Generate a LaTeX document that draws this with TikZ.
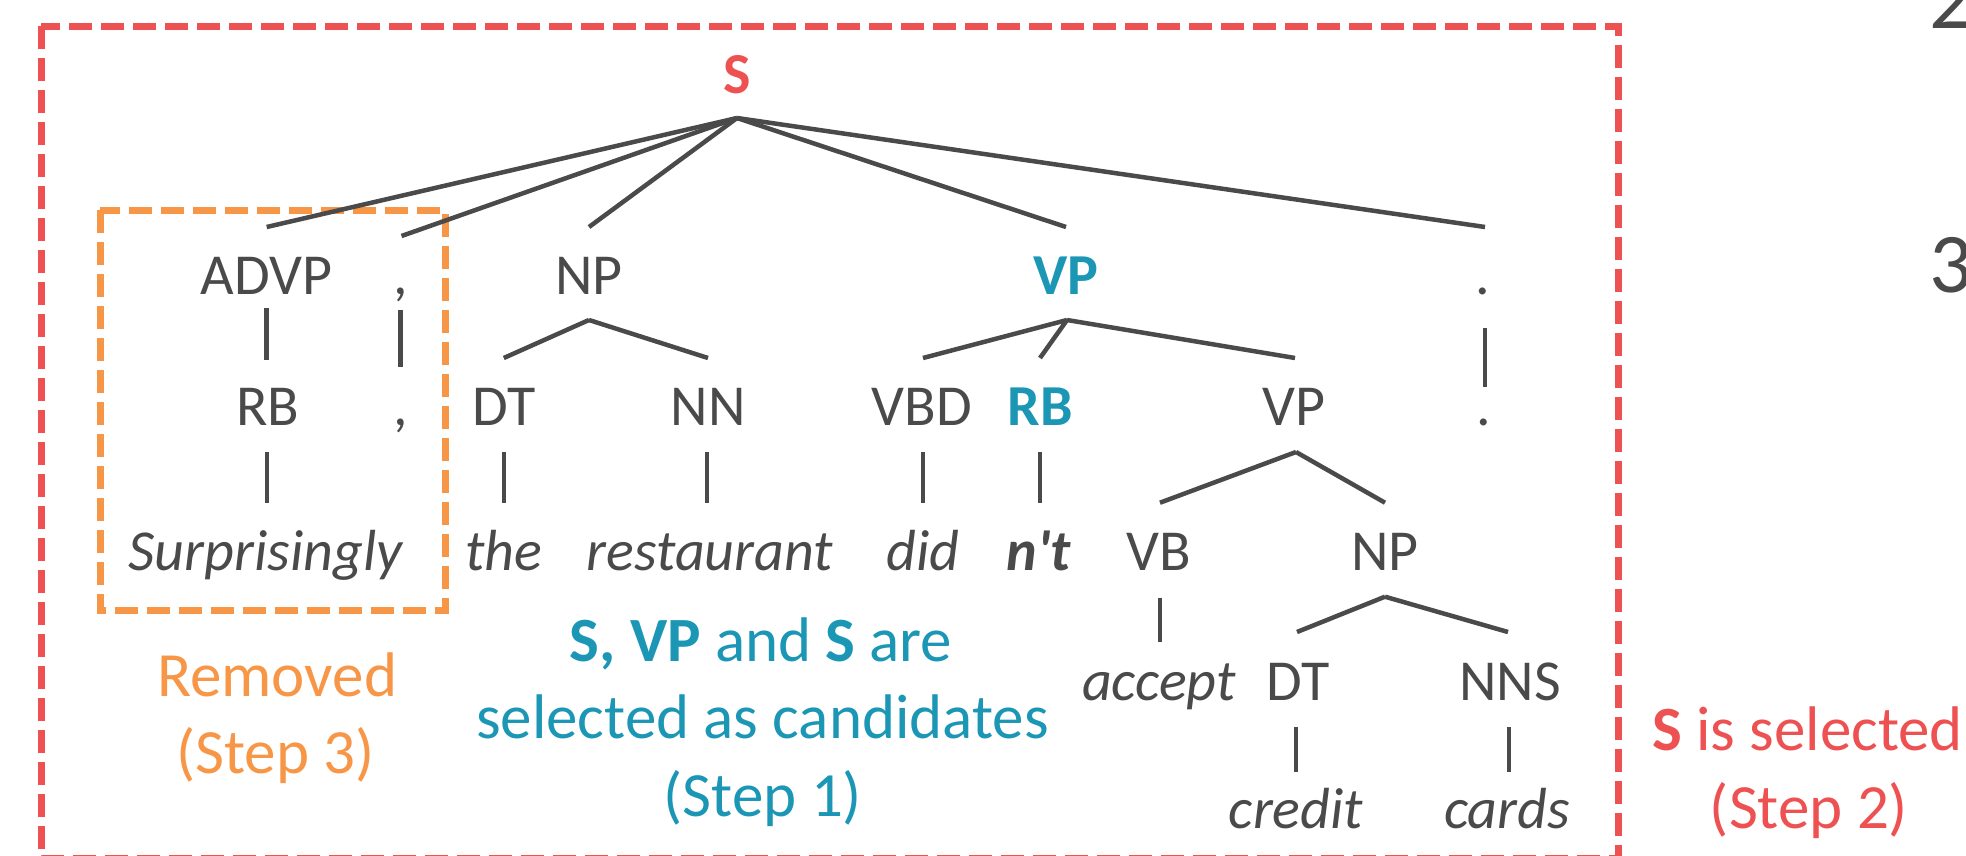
\documentclass[tikz,border=0pt]{standalone}
\usepackage{fontspec}
\setmainfont{Carlito}
\usetikzlibrary{calc}
\definecolor{cred}{RGB}{238,81,82}
\definecolor{corange}{RGB}{247,150,70}
\definecolor{cblue}{RGB}{27,151,181}
\definecolor{cgray}{RGB}{74,74,74}
\newcommand\tsz{\fontsize{58}{70}\selectfont}
\newcommand\asz{\fontsize{63}{76}\selectfont}
\begin{document}
\begin{tikzpicture}[x=1pt,y=-1pt,
  lbl/.style={anchor=base,inner sep=0pt,text=cgray,font=\tsz},
  blbl/.style={anchor=base,inner sep=0pt,font=\tsz\bfseries},
  word/.style={anchor=base,inner sep=0pt,text=cgray,font=\tsz\itshape},
  edge/.style={draw=cgray,line width=4.5pt},
  ann/.style={anchor=base,inner sep=0pt,font=\asz},
  selbox/.style={line width=7pt,dash pattern=on 23pt off 9pt}]
\useasboundingbox (0,0) rectangle (1966,855);
% boxes
\draw[selbox,cred] (41,26) rectangle (1618,858.5);
\draw[selbox,corange] (100,210) rectangle (445.5,610.7);
% root
\node[blbl,text=cred] (S) at (737,93) {S};
% row 1
\node[lbl] (ADVP) at (266.7,294) {ADVP};
\node[lbl] (c1) at (400.5,294) {,};
\node[lbl] (NP1) at (589,294) {NP};
\node[blbl,text=cblue] (VP1) at (1066,294) {VP};
\node[lbl] (p1) at (1483,294) {.};
% row 2
\node[lbl] (RB1) at (268,425) {RB};
\node[lbl] (c2) at (400.5,425) {,};
\node[lbl] (DT1) at (503.8,425) {DT};
\node[lbl] (NN) at (708,425) {NN};
\node[lbl] (VBD) at (922,425) {VBD};
\node[blbl,text=cblue] (RB2) at (1040,425) {RB};
\node[lbl] (VP2) at (1294,425) {VP};
\node[lbl] (p2) at (1483.5,425) {.};
% row 3
\node[word] (w1) at (265.6,570.7) {Surprisingly};
\node[word] (w2) at (504,570.7) {the};
\node[word] (w3) at (710,570.7) {restaurant};
\node[word] (w4) at (923,570.7) {did};
\node[word,font=\tsz\bfseries\itshape] (w5) at (1039,570.7) {n\textquotesingle t};
\node[lbl] (VB) at (1159,570.7) {VB};
\node[lbl] (NP2) at (1385,570.7) {NP};
% row 4
\node[word] (w6) at (1159,700) {accept};
\node[lbl] (DT2) at (1298,700) {DT};
\node[lbl] (NNS) at (1510,700) {NNS};
% row 5
\node[word] (w7) at (1296,828) {credit};
\node[word] (w8) at (1507,828) {cards};
% edges from S
\coordinate (Sa) at ($(S.base)+(0,25)$);
\draw[edge] (Sa) -- ($(ADVP.base)+(0,-67)$);
\draw[edge] (Sa) -- ($(c1.base)+(1,-58)$);
\draw[edge] (Sa) -- ($(NP1.base)+(0,-67)$);
\draw[edge] (Sa) -- ($(VP1.base)+(0,-67)$);
\draw[edge] (Sa) -- ($(p1.base)+(2,-67)$);
% row1 -> row2
\draw[edge] ($(ADVP.base)+(0,14)$) -- ($(ADVP.base |- RB1.base)+(0,-65)$);
\draw[edge] ($(c1.base)+(0,16)$) -- ($(c1.base |- c2.base)+(0,-58)$);
\draw[edge] ($(p1.base)+(2,34)$) -- ($(p1.base |- p2.base)+(2,-38)$);
\coordinate (NPa) at ($(NP1.base)+(0,26)$);
\draw[edge] (NPa) -- ($(DT1.base)+(0,-67)$);
\draw[edge] (NPa) -- ($(NN.base)+(0,-67)$);
\coordinate (VPa) at ($(VP1.base)+(1,26)$);
\draw[edge] (VPa) -- ($(VBD.base)+(1,-67)$);
\draw[edge] (VPa) -- ($(RB2.base)+(0,-67)$);
\draw[edge] (VPa) -- ($(VP2.base)+(1,-67)$);
% row2 -> row3
\draw[edge] ($(RB1.base)+(-1,27)$) -- ($(RB1.base |- w1.base)+(-1,-68)$);
\draw[edge] ($(DT1.base)+(0,27)$) -- ($(DT1.base |- w2.base)+(0,-68)$);
\draw[edge] ($(NN.base)+(-1,27)$) -- ($(NN.base |- w3.base)+(-1,-68)$);
\draw[edge] ($(VBD.base)+(1,27)$) -- ($(VBD.base |- w4.base)+(1,-68)$);
\draw[edge] ($(RB2.base)+(0,27)$) -- ($(RB2.base |- w5.base)+(0,-68)$);
\coordinate (VP2a) at ($(VP2.base)+(2,27)$);
\draw[edge] (VP2a) -- ($(VB.base)+(1,-68)$);
\draw[edge] (VP2a) -- ($(NP2.base)+(0,-68)$);
% row3 -> row4
\draw[edge] ($(VB.base)+(1,27)$) -- ($(VB.base |- w6.base)+(1,-58)$);
\coordinate (NP2a) at ($(NP2.base)+(0,26)$);
\draw[edge] (NP2a) -- ($(DT2.base)+(-1,-68)$);
\draw[edge] (NP2a) -- ($(NNS.base)+(-2,-68)$);
% row4 -> row5
\draw[edge] ($(DT2.base)+(-2,27)$) -- ($(DT2.base |- w7.base)+(-2,-56)$);
\draw[edge] ($(NNS.base)+(-1,27)$) -- ($(NNS.base |- w8.base)+(-1,-56)$);
% annotations
\node[ann,text=corange] (rem1) at (277,696.7) {Removed};
\node[ann,text=corange] (rem2) at (275.6,773) {(Step 3)};
\node[ann,text=cblue] (sel1) at (761,661.7) {\textbf{S, VP} and \textbf{S} are};
\node[ann,text=cblue] (sel2) at (762.5,738) {selected as candidates};
\node[ann,text=cblue] (sel3) at (763,816.7) {(Step 1)};
\node[ann,text=cred] (chs1) at (1807.6,750) {\textbf{S} is selected};
\node[ann,text=cred] (chs2) at (1809,828) {(Step 2)};
% cut-off list numbers
\node[anchor=base west,inner sep=0pt,text=cgray,font=\fontsize{85}{100}\selectfont] (n2) at (1929,28) {2};
\node[anchor=base west,inner sep=0pt,text=cgray,font=\fontsize{85}{100}\selectfont] (n3) at (1929,292) {3};
\end{tikzpicture}
\end{document}
